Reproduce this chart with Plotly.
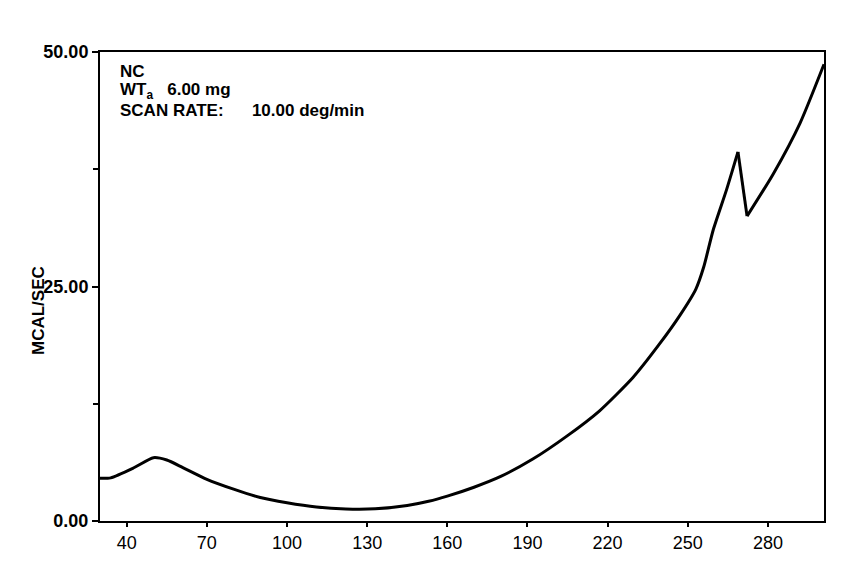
import plotly.graph_objects as go

# Temperature (deg) and heat flow (MCAL/SEC)
temp = [30, 34, 42.5, 50, 55, 61, 70, 80, 90, 100, 111, 122, 133, 145, 153, 160,
        170, 180, 192, 205, 217, 229.5, 239.5, 247, 253, 256, 259.5, 264.5,
        268.8, 272.2, 282, 292, 301]
heat = [4.55, 4.6, 5.65, 6.75, 6.5, 5.7, 4.45, 3.4, 2.5, 1.95, 1.5, 1.28, 1.3, 1.65,
        2.1, 2.65, 3.6, 4.75, 6.6, 9.1, 11.75, 15.3, 18.9, 21.9, 24.7, 27.1, 31.0,
        35.3, 39.35, 32.5, 37.0, 42.4, 48.7]
peak_temp, trough_temp = 268.8, 272.2   # sharp corners of the trace

x_ticks = [40, 70, 100, 130, 160, 190, 220, 250, 280]
y_ticks = [0, 25, 50]
y_labels = ["0.00", "25.00", "50.00"]
y_minor = [12.5, 37.5]

NB = "\u00a0"
info_lines = ["NC", "WT<sub>a</sub>" + NB * 3 + "6.00 mg",
              "SCAN RATE:" + NB * 6 + "10.00 deg/min"]

fig = go.Figure()
ip, it = temp.index(peak_temp), temp.index(trough_temp)
segments = [(0, ip + 1, "spline"), (ip, it + 1, "linear"), (it, len(temp), "spline")]
for a, b, shape in segments:
    fig.add_trace(go.Scatter(x=temp[a:b], y=heat[a:b], mode="lines",
                             line=dict(color="black", width=3, shape=shape, smoothing=0.6),
                             showlegend=False, hoverinfo="x+y"))

OFF = 8  # page body margin
W, H = 852, 579
L, T = 100 - OFF, 52 - OFF
B = H - (521 - OFF)
R = W - (824 - OFF)
pw, ph = W - L - R, H - T - B

def px(xp):
    return (xp - OFF - L) / pw

def py(yp):
    return (H - B - (yp - OFF)) / ph

for i, t in enumerate(info_lines):
    fig.add_annotation(x=px(118), y=py(71 + 19.5 * i), xref="paper", yref="paper",
                       text="<b>" + t + "</b>", showarrow=False,
                       xanchor="left", yanchor="middle",
                       font=dict(family="Arial, Liberation Sans", size=17, color="black"))

fig.add_annotation(x=px(38), y=py(311), xref="paper", yref="paper",
                   text="<b>MCAL/SEC</b>", textangle=-90, showarrow=False,
                   xanchor="center", yanchor="middle",
                   font=dict(family="Arial, Liberation Sans", size=17, color="black"))

fig.update_layout(
    width=W, height=H,
    margin=dict(l=L, r=R, t=T, b=B, autoexpand=False),
    paper_bgcolor="white", plot_bgcolor="white",
    font=dict(family="Arial, Liberation Sans", color="black"),
    xaxis=dict(range=[30, 301], tickvals=x_ticks, ticks="outside", ticklen=4,
               tickwidth=2, tickcolor="black", showgrid=False, zeroline=False,
               showline=True, linecolor="black", linewidth=2, mirror=True,
               tickfont=dict(size=18), fixedrange=True),
    yaxis=dict(range=[0, 50], tickvals=y_ticks, ticktext=y_labels,
               ticks="outside", ticklen=6, tickwidth=2, tickcolor="black",
               minor=dict(tickvals=y_minor, ticks="outside", ticklen=5,
                          tickwidth=2, tickcolor="black", showgrid=False),
               showgrid=False, zeroline=False, showline=True, linecolor="black",
               linewidth=2, mirror=True, tickfont=dict(size=18, weight="bold"),
               fixedrange=True),
)

fig.write_html("out.html")
